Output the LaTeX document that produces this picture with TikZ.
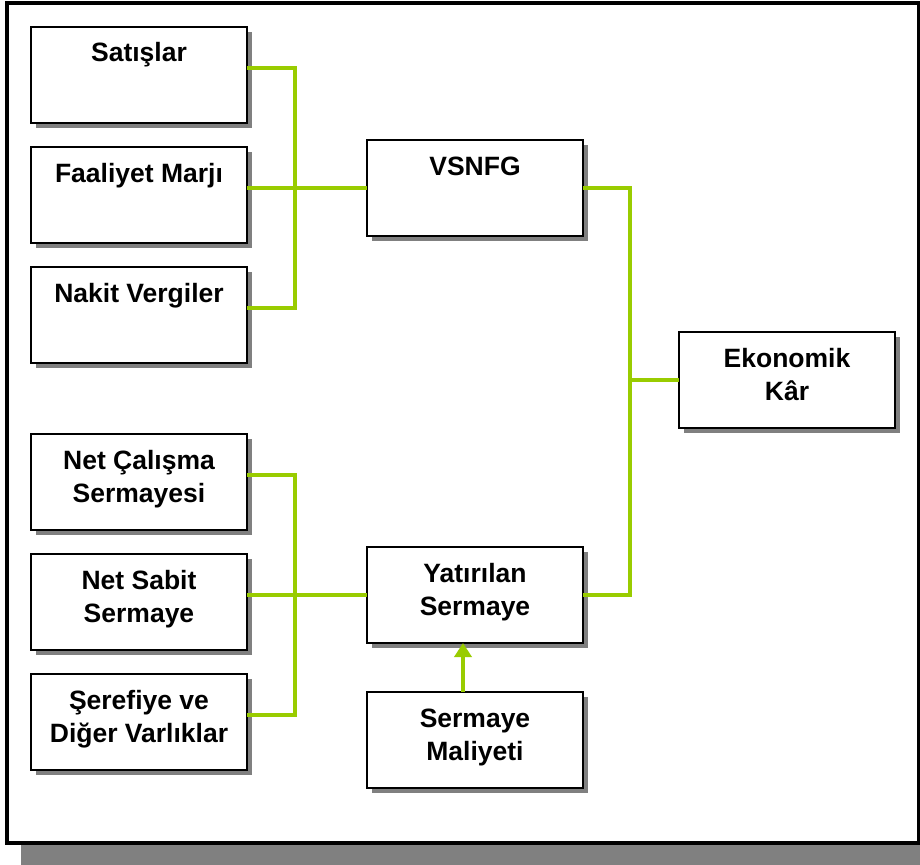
\documentclass[tikz,border=0pt]{standalone}
\usepackage{fontspec}
\setmainfont{Liberation Sans}
\usepackage{tikz}
\usetikzlibrary{arrows.meta,positioning,shadows}
\definecolor{linkgreen}{HTML}{99CC00}
\definecolor{shadowgray}{HTML}{808080}
\newcommand{\boxlabel}[1]{\parbox[c][96pt][t]{216pt}{\centering\rule{0pt}{35pt}#1}}

\begin{document}
\begin{tikzpicture}[
  x=1pt,y=-1pt,
  box/.style={draw,line width=2pt,fill=white,inner sep=0pt,outer sep=0pt,
    font=\fontsize{26.5}{33}\selectfont\bfseries,
    general shadow={fill=shadowgray,shadow xshift=5pt,shadow yshift=-5pt}},
  link/.style={draw=linkgreen,line width=3.5pt},
  arrow/.style={link,-{Triangle[length=14pt,width=17pt]}}
]
\useasboundingbox (0,0) rectangle (920,864);
\fill[shadowgray] (21,845) rectangle (930,870);
\draw[line width=4pt,fill=white] (7,3) rectangle (919,843);
% left column
\node[box,anchor=north west] (sat) at (31,27) {\boxlabel{Satışlar}};
\node[box,below=24pt of sat] (fm) {\boxlabel{Faaliyet Marjı}};
\node[box,below=24pt of fm] (nv) {\boxlabel{Nakit Vergiler}};
\node[box,below=71pt of nv] (ncs) {\boxlabel{Net Çalışma\\Sermayesi}};
\node[box,below=24pt of ncs] (nss) {\boxlabel{Net Sabit\\Sermaye}};
\node[box,below=24pt of nss] (ser) {\boxlabel{Şerefiye ve\\Diğer Varlıklar}};
% middle and right
\node[box,anchor=north west] (vsnfg) at (367,140) {\boxlabel{VSNFG}};
\node[box,anchor=north west] (yat) at (367,547) {\boxlabel{Yatırılan\\Sermaye}};
\node[box,below=49pt of yat] (sm) {\boxlabel{Sermaye\\Maliyeti}};
\node[box,anchor=north west] (ek) at (679,332) {\boxlabel{Ekonomik\\Kâr}};
% connectors
\coordinate (jt) at (295,188);
\coordinate (jb) at (295,595);
\coordinate (jr) at (630,380);
\draw[link] ([yshift=7pt]sat.east) -| (jt) |- ([yshift=7pt]nv.east);
\draw[link] ([yshift=7pt]fm.east) -- (vsnfg.west);
\draw[link] ([yshift=7pt]ncs.east) -| (jb) |- ([yshift=7pt]ser.east);
\draw[link] ([yshift=7pt]nss.east) -- (yat.west);
\draw[link] (vsnfg.east) -| (jr) |- (yat.east);
\draw[link] (jr) -- (ek.west);
\draw[arrow] ([xshift=-12pt]sm.north) -- ([xshift=-12pt]yat.south);
\end{tikzpicture}
\end{document}
